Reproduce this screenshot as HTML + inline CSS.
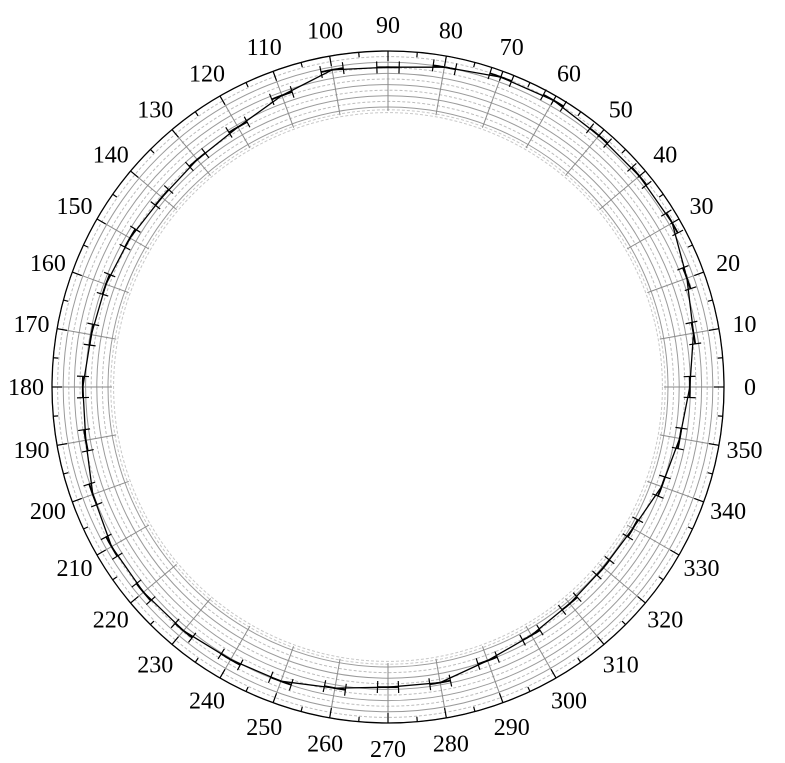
<!DOCTYPE html>
<html><head><meta charset="utf-8"><style>
html,body{margin:0;padding:0;background:#fff;}
svg{display:block;}
text{font-family:"Liberation Serif","Noto Serif CJK SC",serif;font-size:24px;fill:#000;}
</style></head><body>
<svg id="chart" width="785" height="763"></svg>
<script>
const angles=[0,10,20,30,40,50,60,70,80,90,100,110,120,130,140,150,160,170,180,190,200,210,220,230,240,250,260,270,280,290,300,310,320,330,340,350];
const values=[3.9,5.4,6.8,8.6,8.6,8.6,9.1,8.9,8.0,7.1,7.5,5.4,3.6,3.0,2.7,3.2,3.6,3.8,4.5,4.8,6.1,7.0,7.0,6.8,6.2,5.9,4.6,3.6,3.6,2.0,1.2,0.5,0.2,0.5,2.0,2.9];
const angErr=[2,2,2,2,2,2,2,2,2,2,2,2,2,2,2,2,2,2,2,2,2,2,2,2,2,2,2,2,2,2,2,2,2,2,2,2];
const tickLabels=[0,10,20,30,40,50,60,70,80,90,100,110,120,130,140,150,160,170,180,190,200,210,220,230,240,250,260,270,280,290,300,310,320,330,340,350];
const radialTicks=[0,1,2,3,4,5,6,7,8,9,10];

const NS="http://www.w3.org/2000/svg";
const svg=document.getElementById('chart');
const CX=388,CY=387,R0=280,R1=336,VMAX=10;
function rScale(v){return R0+(v/VMAX)*(R1-R0);}
function pt(a,r){const t=a*Math.PI/180;return [CX+r*Math.cos(t),CY-r*Math.sin(t)];}
function mk(tag,attrs,parent){const e=document.createElementNS(NS,tag);for(const k in attrs)e.setAttribute(k,attrs[k]);(parent||svg).appendChild(e);return e;}

const grid=mk('g',{});


radialTicks.forEach((v,i)=>{
  const r=rScale(v);
  const c=mk('circle',{cx:CX,cy:CY,r:r,fill:'none',stroke:i%2===0?'#9a9a9a':'#bdbdbd','stroke-width':1,'stroke-dasharray':i%2===0?'none':'3,2'},grid);
  
  
});
[-0.5,-1].forEach(v=>{
  const c=mk('circle',{cx:CX,cy:CY,r:rScale(v),fill:'none',stroke:'#c8c8c8','stroke-width':1,'stroke-dasharray':'3,2'},grid);
  
  
});
for(let a=0;a<360;a+=10){
  const p1=pt(a,R0-4),p2=pt(a,R1);
  const l=mk('line',{x1:p1[0],y1:p1[1],x2:p2[0],y2:p2[1],stroke:'#8a8a8a','stroke-width':1},grid);
  
  
}
const oc=mk('circle',{cx:CX,cy:CY,r:R1,fill:'none',stroke:'#000','stroke-width':1.3});


for(let a=0;a<360;a+=5){
  const len=a%10===0?10:5;
  const p1=pt(a,R1-len),p2=pt(a,R1);
  const l=mk('line',{x1:p1[0],y1:p1[1],x2:p2[0],y2:p2[1],stroke:'#000','stroke-width':1.2});
  
  
}
tickLabels.forEach(a=>{
  const p=pt(a,362);
  const t=mk('text',{x:p[0],y:p[1]+8,'text-anchor':'middle'});
  t.textContent=a;
  
  
});
let d='';
angles.concat([angles[0]+360]).forEach((a,i)=>{
  const v=values[i%values.length];
  const p=pt(a,rScale(v));
  d+=(i?'L':'M')+p[0].toFixed(1)+','+p[1].toFixed(1);
});
const line=mk('path',{d:d,fill:'none',stroke:'#000','stroke-width':1.3,'stroke-linejoin':'round'});


angles.forEach((a,i)=>{
  const r=rScale(values[i]);
  const g=mk('g',{});
  
  
  const e=angErr[i];
  let pd='';
  for(let k=0;k<=8;k++){const p=pt(a-e+2*e*k/8,r);pd+=(k?'L':'M')+p[0].toFixed(1)+','+p[1].toFixed(1);}
  mk('path',{d:pd,fill:'none',stroke:'#000','stroke-width':1.8},g);
  [a-e,a+e].forEach(b=>{
    const p1=pt(b,r-6),p2=pt(b,r+6);
    mk('line',{x1:p1[0],y1:p1[1],x2:p2[0],y2:p2[1],stroke:'#000','stroke-width':1.2},g);
  });
});
</script>
</body></html>
